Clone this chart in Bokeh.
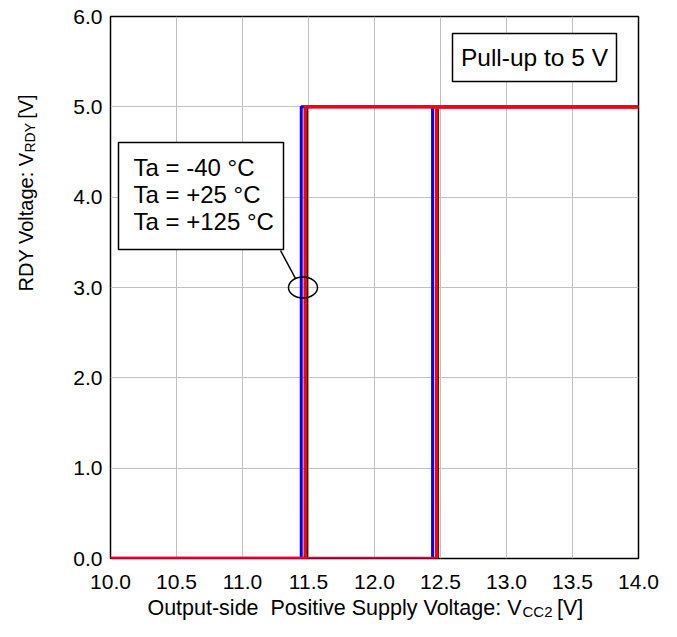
import math
from bokeh.plotting import figure
from bokeh.models import Range1d, Label, BoxAnnotation, FixedTicker, NumeralTickFormatter
from bokeh.embed import file_html
from bokeh.resources import INLINE

# ---------------- data ----------------
series_names = ["Ta = -40 °C", "Ta = +25 °C", "Ta = +125 °C"]
series_colors = ["#000000", "#0000ff", "#ff0000"]
series_widths = [2.0, 3.0, 3.5]
v_rise = [12.48, 12.44, 12.47]     # VCC2 where RDY goes high (sweep up)
v_fall = [11.49, 11.445, 11.475]   # VCC2 where RDY goes low (sweep down)
rdy_low = 0.0
rdy_high = 5.0
x_min, x_max = 10.0, 14.0
y_min, y_max = 0.0, 6.0
x_ticks = [10.0, 10.5, 11.0, 11.5, 12.0, 12.5, 13.0, 13.5, 14.0]
y_ticks = [0.0, 1.0, 2.0, 3.0, 4.0, 5.0, 6.0]
note_text = "Pull-up to 5 V"
x_title = ["Output-side \u00a0Positive Supply Voltage: V", "CC2", "\u00a0[V]"]
y_title = ["RDY Voltage: V", "RDY", "\u00a0[V]"]

# ---------------- layout helpers ----------------
FL, FR, FT, FB = 110, 638, 16, 558   # frame in page pixels
def dx(px):
    return x_min + (px - FL) * (x_max - x_min) / (FR - FL)
def dy(py):
    return y_min + (FB - py) * (y_max - y_min) / (FB - FT)

AW = {' ': 278, '\u00a0': 278, '-': 333, ':': 278, '[': 278, ']': 278, '.': 278, '=': 584,
      '+': 584, '°': 400, 'O': 778, 'P': 667, 'S': 667, 'V': 667, 'C': 722, 'R': 722, 'D': 722,
      'Y': 667, 'T': 611}
def tw(s, size):
    return sum(AW.get(c, 556) for c in s) / 1000.0 * size * 0.95

FONT = "Liberation Sans"

p = figure(frame_width=FR - FL, frame_height=FB - FT,
           min_border_left=FL, min_border_right=31, min_border_top=FT, min_border_bottom=71,
           x_range=Range1d(x_min, x_max), y_range=Range1d(y_min, y_max),
           output_backend="svg", toolbar_location=None,
           background_fill_color="white", border_fill_color="white")

p.outline_line_color = "black"
p.outline_line_width = 1.5

for ax, ticks in ((p.xaxis, x_ticks), (p.yaxis, y_ticks)):
    ax.ticker = FixedTicker(ticks=ticks)
    ax.formatter = NumeralTickFormatter(format="0.0")
    ax.axis_line_color = None
    ax.major_tick_line_color = None
    ax.minor_tick_line_color = None
    ax.major_tick_out = 0
    ax.major_tick_in = 0
    ax.major_label_text_font = FONT
    ax.major_label_text_font_size = "21px"
    ax.major_label_text_color = "black"
p.xaxis.major_label_standoff = 16
p.yaxis.major_label_standoff = 8

p.xgrid.ticker = FixedTicker(ticks=x_ticks)
p.ygrid.ticker = FixedTicker(ticks=y_ticks)
for g in (p.xgrid, p.ygrid):
    g.grid_line_color = "#c0c0c0"
    g.grid_line_width = 1

# ---------------- axis titles (in side panels so they are not clipped) ----------------
XF, XS = 21.5, 15.0
x_end = 521
p.add_layout(Label(x=dx(x_end), y=dy(607), text=x_title[0], text_font=FONT,
                   text_font_size=f"{XF}px", text_color="black",
                   text_baseline="alphabetic", text_align="right"), "below")
p.add_layout(Label(x=dx(x_end + 1), y=dy(611), text=x_title[1], text_font=FONT,
                   text_font_size=f"{XS}px", text_color="black",
                   text_baseline="alphabetic", text_align="left"), "below")
p.add_layout(Label(x=dx(x_end + 1 + tw(x_title[1], XS)), y=dy(607), text=x_title[2], text_font=FONT,
                   text_font_size=f"{XF}px", text_color="black",
                   text_baseline="alphabetic", text_align="left"), "below")

YF, YS = 20.0, 14.0
y_end = 152
ybase = 25
p.add_layout(Label(x=dx(ybase), y=dy(y_end), text=y_title[0], text_font=FONT,
                   text_font_size=f"{YF}px", text_color="black", text_baseline="alphabetic",
                   text_align="right", angle=math.pi / 2), "left")
p.add_layout(Label(x=dx(ybase + 4), y=dy(y_end), text=y_title[1], text_font=FONT,
                   text_font_size=f"{YS}px", text_color="black", text_baseline="alphabetic",
                   text_align="left", angle=math.pi / 2), "left")
p.add_layout(Label(x=dx(ybase), y=dy(y_end - tw(y_title[1], YS)), text=y_title[2], text_font=FONT,
                   text_font_size=f"{YF}px", text_color="black", text_baseline="alphabetic",
                   text_align="left", angle=math.pi / 2), "left")

# ---------------- curves ----------------
for vr, vf, c, w in zip(v_rise, v_fall, series_colors, series_widths):
    p.line([x_min, vr, vr, x_max], [rdy_low, rdy_low, rdy_high, rdy_high], line_color=c, line_width=w)
    p.line([x_max, vf, vf, x_min], [rdy_high, rdy_high, rdy_low, rdy_low], line_color=c, line_width=w)

# ---------------- annotations ----------------
p.ellipse(x=[dx(302.5)], y=[3.0], width=[dx(331.5) - dx(302.5)], height=[dy(277) - dy(298)],
          fill_color=None, line_color="black", line_width=1.5)
p.line([dx(280), dx(295)], [dy(250), dy(278)], line_color="black", line_width=1.5)

p.add_layout(BoxAnnotation(left=dx(118), right=dx(283), top=dy(142), bottom=dy(249),
                           fill_color="white", fill_alpha=1.0, line_color="black",
                           line_alpha=1.0, line_width=1.5))
for name, base in zip(series_names, [167, 194, 221]):
    p.add_layout(Label(x=dx(133), y=dy(base), text=name, text_font=FONT, text_font_size="24px",
                       text_color="black", text_baseline="alphabetic", text_align="left"))

p.add_layout(BoxAnnotation(left=dx(452), right=dx(616), top=dy(33), bottom=dy(81),
                           fill_color="white", fill_alpha=1.0, line_color="black",
                           line_alpha=1.0, line_width=1.5))
p.add_layout(Label(x=dx(534), y=dy(57), text=note_text, text_font=FONT, text_font_size="24.5px",
                   text_color="black", text_baseline="alphabetic", text_align="center"))

open("out.html", "w").write(file_html(p, INLINE))
